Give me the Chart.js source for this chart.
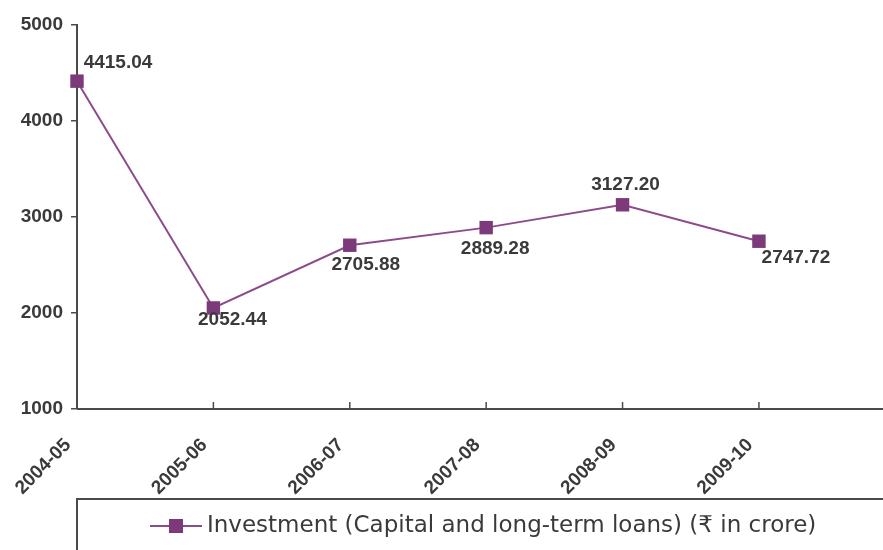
<!DOCTYPE html>
<html>
<head>
<meta charset="utf-8">
<script src="https://cdn.jsdelivr.net/npm/chart.js@4.4.0/dist/chart.umd.min.js"></script>
<style>
  html, body { margin: 0; padding: 0; background: #ffffff; }
  #wrap { width: 883px; height: 550px; }
</style>
</head>
<body>
<div id="wrap"><canvas id="investChart" width="883" height="550"></canvas></div>
<script>
// years on the x axis
const years = ['2004-05', '2005-06', '2006-07', '2007-08', '2008-09', '2009-10'];
// investment, Rs in crore
const investment = [4415.04, 2052.44, 2705.88, 2889.28, 3127.20, 2747.72];
// y axis ticks
const yTicks = [1000, 2000, 3000, 4000, 5000];
const seriesName = 'Investment (Capital and long-term loans) (\u20B9 in crore)';

// where each value label sits relative to its point (dx, dy)
const labelOffsets = [[41, -18], [19, 12], [16, 20], [9, 21], [3, -20], [37, 17]];

const purple = '#7d3a7a';
const lineColor = '#8c4c8a';
const inkColor = '#3a3a3a';
const axisColor = '#4a4a4a';
const boldFont = '"Liberation Sans", Arial, sans-serif';

// value labels next to each point
const valueLabels = {
    id: 'valueLabels',
    afterDatasetsDraw(chart) {
        const ctx = chart.ctx;
        const meta = chart.getDatasetMeta(0);
        ctx.save();
        ctx.font = 'bold 19px ' + boldFont;
        ctx.fillStyle = inkColor;
        ctx.textAlign = 'center';
        ctx.textBaseline = 'middle';
        meta.data.forEach((pt, i) => {
            const off = labelOffsets[i];
            ctx.fillText(investment[i].toFixed(2), pt.x + off[0], pt.y + off[1]);
        });
        ctx.restore();
    }
};

// x axis line running to the right edge, with short ticks pointing up
const xAxisLine = {
    id: 'xAxisLine',
    afterDraw(chart) {
        const ctx = chart.ctx;
        const xs = chart.scales.x;
        const area = chart.chartArea;
        const bottom = area.bottom;
        ctx.save();
        ctx.strokeStyle = axisColor;
        ctx.lineWidth = 2;
        ctx.beginPath();
        ctx.moveTo(area.left, bottom);
        ctx.lineTo(chart.width, bottom);
        ctx.stroke();
        ctx.lineWidth = 1.5;
        xs.ticks.forEach(t => {
            if (t.value === 0) return;
            const px = xs.getPixelForValue(t.value);
            ctx.beginPath();
            ctx.moveTo(px, bottom);
            ctx.lineTo(px, bottom - 7);
            ctx.stroke();
        });
        ctx.restore();
    }
};

// boxed legend under the axis labels
const boxedLegend = {
    id: 'boxedLegend',
    afterDraw(chart) {
        const ctx = chart.ctx;
        const area = chart.chartArea;
        const top = area.bottom + 90;
        const midY = top + 27;
        ctx.save();
        ctx.strokeStyle = axisColor;
        ctx.lineWidth = 2;
        ctx.strokeRect(area.left, top, chart.width, 80);

        ctx.strokeStyle = lineColor;
        ctx.lineWidth = 2;
        ctx.beginPath();
        ctx.moveTo(150, midY);
        ctx.lineTo(202, midY);
        ctx.stroke();
        ctx.fillStyle = purple;
        ctx.fillRect(169, midY - 7, 14, 14);

        ctx.font = '23px "DejaVu Sans", Verdana, sans-serif';
        ctx.fillStyle = inkColor;
        ctx.textAlign = 'left';
        ctx.textBaseline = 'middle';
        ctx.fillText(chart.data.datasets[0].label, 207, midY);
        ctx.restore();
    }
};

const ctx = document.getElementById('investChart').getContext('2d');
new Chart(ctx, {
    type: 'line',
    data: {
        datasets: [{
            label: seriesName,
            data: investment.map((v, i) => ({ x: i, y: v })),
            borderColor: lineColor,
            borderWidth: 2,
            backgroundColor: purple,
            pointStyle: 'rect',
            pointRadius: 9.5,
            pointHoverRadius: 9.5,
            pointBackgroundColor: purple,
            pointBorderColor: purple,
            pointBorderWidth: 0,
            tension: 0,
            fill: false,
            clip: false
        }]
    },
    options: {
        responsive: false,
        animation: false,
        events: [],
        layout: { padding: { top: 25, right: 0, bottom: 51, left: 0 } },
        plugins: {
            legend: { display: false },
            tooltip: { enabled: false }
        },
        scales: {
            x: {
                type: 'linear',
                min: 0,
                max: 5.84,
                afterFit(scale) {
                    scale.height = 90;
                    scale.paddingLeft = 0;
                    scale.paddingRight = 0;
                },
                border: { display: false },
                grid: { display: false, drawOnChartArea: false, drawTicks: false },
                ticks: {
                    stepSize: 1,
                    includeBounds: false,
                    autoSkip: false,
                    maxRotation: 45,
                    minRotation: 45,
                    padding: 25,
                    labelOffset: -9,
                    color: inkColor,
                    font: { family: boldFont, size: 19, weight: 'bold' },
                    callback: (v) => years[v] ?? ''
                }
            },
            y: {
                min: yTicks[0],
                max: yTicks[yTicks.length - 1],
                afterFit(scale) { scale.width = 77; },
                afterBuildTicks(scale) { scale.ticks = yTicks.map(v => ({ value: v })); },
                border: { display: true, color: axisColor, width: 2 },
                grid: { display: true, drawOnChartArea: false, drawTicks: true, tickLength: 6, color: axisColor, lineWidth: 1.5 },
                ticks: {
                    padding: 8,
                    color: inkColor,
                    font: { family: boldFont, size: 19, weight: 'bold' },
                    callback: (v) => String(v)
                }
            }
        }
    },
    plugins: [valueLabels, xAxisLine, boxedLegend]
});
</script>
</body>
</html>
